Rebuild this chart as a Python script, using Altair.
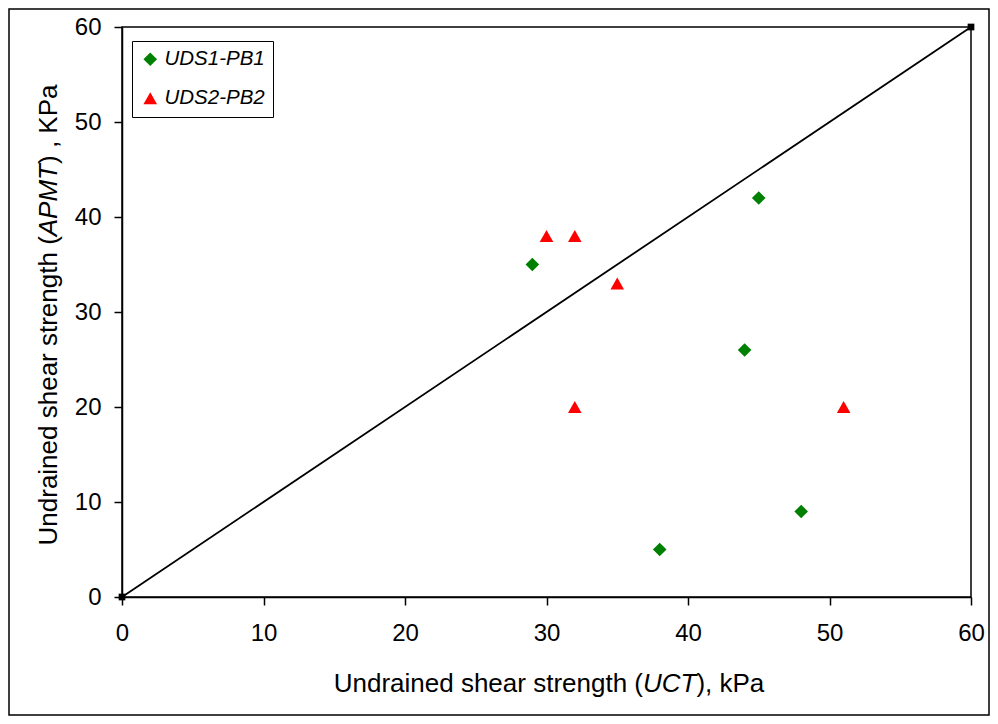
import altair as alt
import pandas as pd

# ---- data ----
s1_name = "UDS1-PB1"
s1_uct = [29, 45, 44, 48, 38]
s1_apmt = [35, 42, 26, 9, 5]

s2_name = "UDS2-PB2"
s2_uct = [30, 32, 35, 32, 51]
s2_apmt = [38, 38, 33, 20, 20]

line_x = [0, 60]
line_y = [0, 60]

x_ticks = [0, 10, 20, 30, 40, 50, 60]
y_ticks = [0, 10, 20, 30, 40, 50, 60]

x_title_parts = ["Undrained shear strength (", "UCT", "), kPa"]
y_title_parts = ["Undrained shear strength (", "APMT", ") , KPa"]

FONT = "Liberation Sans"

pts = pd.DataFrame({
    "uct": s1_uct + s2_uct,
    "apmt": s1_apmt + s2_apmt,
    "series": [s1_name] * len(s1_uct) + [s2_name] * len(s2_uct),
})
line_df = pd.DataFrame({"uct": line_x, "apmt": line_y})

W, H = 849, 570

xscale = alt.Scale(domain=[0, 60], nice=False)
yscale = alt.Scale(domain=[0, 60], nice=False)
xaxis = alt.Axis(values=x_ticks, title=None, grid=False, orient="bottom", labelFlush=False)
yaxis = alt.Axis(values=y_ticks, title=None, grid=False, orient="left", labelFlush=False)

legend = alt.Legend(
    title=None, orient="none", legendX=10, legendY=14,
    strokeColor="black", fillColor="white", padding=8,
    labelFont=FONT, labelFontSize=20.5, labelFontStyle="italic", labelColor="black",
    labelOffset=4, rowPadding=18, symbolStrokeWidth=0, symbolSize=185,
)

line = alt.Chart(line_df).mark_line(
    color="black", strokeWidth=1.8,
    point=alt.OverlayMarkDef(shape="square", filled=True, color="black", size=45),
).encode(
    x=alt.X("uct:Q", scale=xscale, axis=xaxis),
    y=alt.Y("apmt:Q", scale=yscale, axis=yaxis),
)

points = alt.Chart(pts).mark_point(filled=True, size=185, opacity=1).encode(
    x=alt.X("uct:Q", scale=xscale, axis=xaxis),
    y=alt.Y("apmt:Q", scale=yscale, axis=yaxis),
    color=alt.Color("series:N", scale=alt.Scale(domain=[s1_name, s2_name], range=["#008000", "#FF0000"]), legend=legend),
    shape=alt.Shape("series:N", scale=alt.Scale(domain=[s1_name, s2_name], range=["diamond", "triangle-up"]), legend=legend),
)

TF = 26.0
# approximate advance widths (em) for Arial-metric font
xw = [11.894, 2.055, 2.612]
yw = [11.894, 2.778, 3.057]

def text_layer(t, x, y, italic=False, angle=0):
    kw = dict(font=FONT, fontSize=TF, color="black", align="left", baseline="alphabetic")
    if italic:
        kw["fontStyle"] = "italic"
    if angle:
        kw["angle"] = angle
    return alt.Chart(pd.DataFrame({"t": [t]})).mark_text(**kw).encode(
        text="t:N", x=alt.value(x), y=alt.value(y)
    )

x_center = 427
x_total = sum(xw) * TF
xs = x_center - x_total / 2
x_texts = []
pos = xs
for i, part in enumerate(x_title_parts):
    x_texts.append(text_layer(part, pos, 665, italic=(i == 1)))
    pos += xw[i] * TF

y_center = 288
y_total = sum(yw) * TF
ys = y_center + y_total / 2
y_texts = []
pos = ys
for i, part in enumerate(y_title_parts):
    y_texts.append(text_layer(part, -65, pos, italic=(i == 1), angle=270))
    pos -= yw[i] * TF

border = alt.Chart(pd.DataFrame({"a": [0]})).mark_rect(
    fillOpacity=0, stroke="black", strokeWidth=1.5
).encode(
    x=alt.value(-113), x2=alt.value(867), y=alt.value(-18), y2=alt.value(688)
)

chart = alt.layer(line, points, *x_texts, *y_texts, border).properties(
    width=W, height=H, autosize="none",
    padding={"left": 114, "top": 19, "right": 19, "bottom": 119},
).configure_view(
    stroke="black", strokeWidth=1.5
).configure_axis(
    labelFont=FONT, labelFontSize=24, labelColor="black",
    tickColor="black", domainColor="black", tickSize=8, tickWidth=1.5, domainWidth=1.5,
).configure_axisLeft(labelPadding=13).configure_axisBottom(labelPadding=16)

chart.save("out.html", embed_options={"renderer": "svg", "actions": False})
